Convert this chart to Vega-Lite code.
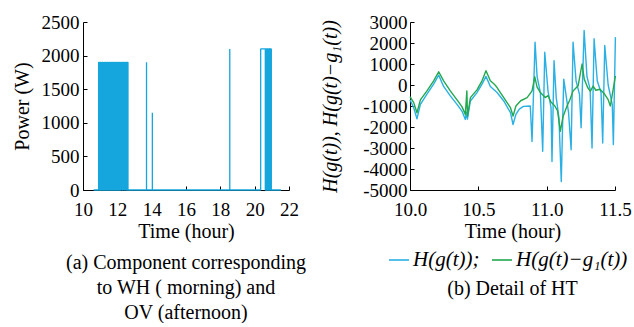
{
  "$schema": "https://vega.github.io/schema/vega-lite/v6.json",
  "background": "white",
  "padding": {"left": 12, "top": 13, "right": 0, "bottom": 0},
  "bounds": "flush",
  "spacing": 121,
  "config": {
    "font": "Liberation Serif",
    "view": {"stroke": null},
    "title": {"font": "Liberation Serif", "fontSize": 20, "fontWeight": "normal", "color": "black", "lineHeight": 25}
  },
  "hconcat": [
    {
      "width": 206,
      "height": 168,
      "title": {"text": ["(a) Component  corresponding", "to WH ( morning) and", "OV (afternoon)"], "orient": "bottom", "anchor": "middle", "offset": 12, "font": "Liberation Serif", "fontSize": 20, "fontWeight": 400, "color": "black", "lineHeight": 25},
      "data": {"values": [
        {"t": 10.62, "p": 0},
        {"t": 10.91, "p": 0}, {"t": 10.91, "p": 1900},
        {"t": 10.96, "p": 1900}, {"t": 10.96, "p": 0},
        {"t": 11.01, "p": 0}, {"t": 11.01, "p": 1900},
        {"t": 11.06, "p": 1900}, {"t": 11.06, "p": 0},
        {"t": 11.11, "p": 0}, {"t": 11.11, "p": 1900},
        {"t": 11.16, "p": 1900}, {"t": 11.16, "p": 0},
        {"t": 11.21, "p": 0}, {"t": 11.21, "p": 1900},
        {"t": 11.26, "p": 1900}, {"t": 11.26, "p": 0},
        {"t": 11.31, "p": 0}, {"t": 11.31, "p": 1900},
        {"t": 11.36, "p": 1900}, {"t": 11.36, "p": 0},
        {"t": 11.41, "p": 0}, {"t": 11.41, "p": 1900},
        {"t": 11.46, "p": 1900}, {"t": 11.46, "p": 0},
        {"t": 11.51, "p": 0}, {"t": 11.51, "p": 1900},
        {"t": 11.56, "p": 1900}, {"t": 11.56, "p": 0},
        {"t": 11.61, "p": 0}, {"t": 11.61, "p": 1900},
        {"t": 11.66, "p": 1900}, {"t": 11.66, "p": 0},
        {"t": 11.71, "p": 0}, {"t": 11.71, "p": 1900},
        {"t": 11.76, "p": 1900}, {"t": 11.76, "p": 0},
        {"t": 11.81, "p": 0}, {"t": 11.81, "p": 1900},
        {"t": 11.86, "p": 1900}, {"t": 11.86, "p": 0},
        {"t": 11.91, "p": 0}, {"t": 11.91, "p": 1900},
        {"t": 11.96, "p": 1900}, {"t": 11.96, "p": 0},
        {"t": 12.01, "p": 0}, {"t": 12.01, "p": 1900},
        {"t": 12.06, "p": 1900}, {"t": 12.06, "p": 0},
        {"t": 12.11, "p": 0}, {"t": 12.11, "p": 1900},
        {"t": 12.16, "p": 1900}, {"t": 12.16, "p": 0},
        {"t": 12.22, "p": 0}, {"t": 12.22, "p": 1900},
        {"t": 12.29, "p": 1900}, {"t": 12.29, "p": 0},
        {"t": 12.35, "p": 0}, {"t": 12.35, "p": 1900},
        {"t": 12.42, "p": 1900}, {"t": 12.42, "p": 0},
        {"t": 12.47, "p": 0}, {"t": 12.47, "p": 1900},
        {"t": 12.53, "p": 1900}, {"t": 12.53, "p": 0},
        {"t": 12.57, "p": 0}, {"t": 12.57, "p": 1900},
        {"t": 12.62, "p": 1900}, {"t": 12.62, "p": 0},
        {"t": 13.70, "p": 0}, {"t": 13.70, "p": 1900}, {"t": 13.70, "p": 0},
        {"t": 14.04, "p": 0}, {"t": 14.04, "p": 1150}, {"t": 14.04, "p": 0},
        {"t": 18.55, "p": 0}, {"t": 18.55, "p": 2100}, {"t": 18.55, "p": 0},
        {"t": 20.35, "p": 0}, {"t": 20.35, "p": 2100},
        {"t": 20.62, "p": 2100}, {"t": 20.62, "p": 0},
        {"t": 20.66, "p": 0}, {"t": 20.66, "p": 2100},
        {"t": 20.70, "p": 2100}, {"t": 20.70, "p": 0},
        {"t": 20.74, "p": 0}, {"t": 20.74, "p": 2100},
        {"t": 20.78, "p": 2100}, {"t": 20.78, "p": 0},
        {"t": 20.82, "p": 0}, {"t": 20.82, "p": 2100},
        {"t": 20.86, "p": 2100}, {"t": 20.86, "p": 0},
        {"t": 20.89, "p": 0}, {"t": 20.89, "p": 2100},
        {"t": 20.93, "p": 2100}, {"t": 20.93, "p": 0},
        {"t": 20.95, "p": 0}, {"t": 20.95, "p": 2100},
        {"t": 20.97, "p": 2100}, {"t": 20.97, "p": 0},
        {"t": 21.53, "p": 0}
      ]},
      "mark": {"type": "line", "color": "#14a6dd", "strokeWidth": 1.3, "strokeJoin": "bevel"},
      "encoding": {
        "x": {"field": "t", "type": "quantitative", "scale": {"domain": [10, 22], "nice": false, "zero": false},
              "axis": {"values": [10, 12, 14, 16, 18, 20, 22], "format": "d", "title": "Time (hour)",
                       "grid": false, "domainColor": "black", "tickColor": "black", "tickSize": -4,
                       "labelFont": "Liberation Serif", "labelFontSize": 19, "labelColor": "black", "labelPadding": 14,
                       "labelFlush": false, "labelOverlap": false,
                       "titleFont": "Liberation Serif", "titleFontSize": 20, "titleFontWeight": 400, "titleColor": "black", "titlePadding": 2}},
        "y": {"field": "p", "type": "quantitative", "scale": {"domain": [0, 2500], "nice": false},
              "axis": {"values": [0, 500, 1000, 1500, 2000, 2500], "format": "d", "title": "Power (W)",
                       "grid": false, "domainColor": "black", "tickColor": "black", "tickSize": -4,
                       "labelFont": "Liberation Serif", "labelFontSize": 19, "labelColor": "black", "labelPadding": 8,
                       "labelFlush": false, "labelOverlap": false,
                       "titleFont": "Liberation Serif", "titleFontSize": 20, "titleFontWeight": 400, "titleColor": "black", "titlePadding": 9}},
        "order": {"value": null}
      }
    },
    {
      "width": 205,
      "height": 168,
      "title": {"text": "(b) Detail of HT", "orient": "bottom", "anchor": "middle", "offset": 38, "font": "Liberation Serif", "fontSize": 20, "fontWeight": 400, "color": "black"},
      "data": {"values": [
        {"t": 10.000, "v": -700, "s": "a"},
        {"t": 10.027, "v": -1080, "s": "a"},
        {"t": 10.051, "v": -1610, "s": "a"},
        {"t": 10.076, "v": -920, "s": "a"},
        {"t": 10.124, "v": -440, "s": "a"},
        {"t": 10.173, "v": 40, "s": "a"},
        {"t": 10.210, "v": 470, "s": "a"},
        {"t": 10.246, "v": -70, "s": "a"},
        {"t": 10.295, "v": -520, "s": "a"},
        {"t": 10.344, "v": -920, "s": "a"},
        {"t": 10.380, "v": -1240, "s": "a"},
        {"t": 10.405, "v": -1640, "s": "a"},
        {"t": 10.412, "v": -1300, "s": "a"},
        {"t": 10.420, "v": -1620, "s": "a"},
        {"t": 10.442, "v": -760, "s": "a"},
        {"t": 10.490, "v": -360, "s": "a"},
        {"t": 10.527, "v": 40, "s": "a"},
        {"t": 10.556, "v": 410, "s": "a"},
        {"t": 10.588, "v": -70, "s": "a"},
        {"t": 10.637, "v": -360, "s": "a"},
        {"t": 10.686, "v": -760, "s": "a"},
        {"t": 10.735, "v": -1320, "s": "a"},
        {"t": 10.754, "v": -1880, "s": "a"},
        {"t": 10.775, "v": -1400, "s": "a"},
        {"t": 10.800, "v": -1150, "s": "a"},
        {"t": 10.830, "v": -1020, "s": "a"},
        {"t": 10.880, "v": -1000, "s": "a"},
        {"t": 10.893, "v": -2690, "s": "a"},
        {"t": 10.915, "v": 2040, "s": "a"},
        {"t": 10.930, "v": 400, "s": "a"},
        {"t": 10.954, "v": -360, "s": "a"},
        {"t": 10.971, "v": -3160, "s": "a"},
        {"t": 10.986, "v": 1560, "s": "a"},
        {"t": 11.010, "v": -300, "s": "a"},
        {"t": 11.032, "v": -1080, "s": "a"},
        {"t": 11.039, "v": -3640, "s": "a"},
        {"t": 11.054, "v": 1160, "s": "a"},
        {"t": 11.070, "v": -600, "s": "a"},
        {"t": 11.090, "v": -1570, "s": "a"},
        {"t": 11.107, "v": -4600, "s": "a"},
        {"t": 11.118, "v": -1500, "s": "a"},
        {"t": 11.125, "v": 280, "s": "a"},
        {"t": 11.140, "v": -400, "s": "a"},
        {"t": 11.160, "v": -1300, "s": "a"},
        {"t": 11.179, "v": -3080, "s": "a"},
        {"t": 11.193, "v": 2040, "s": "a"},
        {"t": 11.215, "v": 200, "s": "a"},
        {"t": 11.240, "v": -440, "s": "a"},
        {"t": 11.252, "v": -2040, "s": "a"},
        {"t": 11.274, "v": 2600, "s": "a"},
        {"t": 11.295, "v": 400, "s": "a"},
        {"t": 11.318, "v": -200, "s": "a"},
        {"t": 11.332, "v": -3000, "s": "a"},
        {"t": 11.347, "v": 2200, "s": "a"},
        {"t": 11.370, "v": 200, "s": "a"},
        {"t": 11.398, "v": -360, "s": "a"},
        {"t": 11.410, "v": -2760, "s": "a"},
        {"t": 11.425, "v": 1880, "s": "a"},
        {"t": 11.450, "v": 0, "s": "a"},
        {"t": 11.480, "v": -920, "s": "a"},
        {"t": 11.488, "v": -2840, "s": "a"},
        {"t": 11.503, "v": 2280, "s": "a"},
        {"t": 10.000, "v": -550, "s": "b"},
        {"t": 10.027, "v": -840, "s": "b"},
        {"t": 10.051, "v": -1320, "s": "b"},
        {"t": 10.076, "v": -710, "s": "b"},
        {"t": 10.124, "v": -280, "s": "b"},
        {"t": 10.173, "v": 200, "s": "b"},
        {"t": 10.210, "v": 630, "s": "b"},
        {"t": 10.246, "v": 200, "s": "b"},
        {"t": 10.295, "v": -280, "s": "b"},
        {"t": 10.344, "v": -710, "s": "b"},
        {"t": 10.380, "v": -1030, "s": "b"},
        {"t": 10.405, "v": -1400, "s": "b"},
        {"t": 10.416, "v": -280, "s": "b"},
        {"t": 10.421, "v": -1480, "s": "b"},
        {"t": 10.442, "v": -600, "s": "b"},
        {"t": 10.490, "v": -230, "s": "b"},
        {"t": 10.527, "v": 200, "s": "b"},
        {"t": 10.556, "v": 680, "s": "b"},
        {"t": 10.588, "v": 200, "s": "b"},
        {"t": 10.617, "v": 40, "s": "b"},
        {"t": 10.637, "v": -120, "s": "b"},
        {"t": 10.686, "v": -600, "s": "b"},
        {"t": 10.735, "v": -1080, "s": "b"},
        {"t": 10.754, "v": -1480, "s": "b"},
        {"t": 10.775, "v": -1000, "s": "b"},
        {"t": 10.810, "v": -750, "s": "b"},
        {"t": 10.857, "v": -600, "s": "b"},
        {"t": 10.893, "v": -280, "s": "b"},
        {"t": 10.913, "v": 390, "s": "b"},
        {"t": 10.930, "v": -100, "s": "b"},
        {"t": 10.954, "v": -360, "s": "b"},
        {"t": 10.990, "v": -600, "s": "b"},
        {"t": 11.010, "v": -500, "s": "b"},
        {"t": 11.030, "v": -800, "s": "b"},
        {"t": 11.060, "v": -1000, "s": "b"},
        {"t": 11.080, "v": -1240, "s": "b"},
        {"t": 11.100, "v": -2200, "s": "b"},
        {"t": 11.120, "v": -1500, "s": "b"},
        {"t": 11.149, "v": -1000, "s": "b"},
        {"t": 11.170, "v": -700, "s": "b"},
        {"t": 11.193, "v": -280, "s": "b"},
        {"t": 11.230, "v": -40, "s": "b"},
        {"t": 11.259, "v": 1000, "s": "b"},
        {"t": 11.275, "v": 280, "s": "b"},
        {"t": 11.300, "v": -120, "s": "b"},
        {"t": 11.320, "v": -300, "s": "b"},
        {"t": 11.340, "v": -50, "s": "b"},
        {"t": 11.360, "v": -250, "s": "b"},
        {"t": 11.390, "v": -200, "s": "b"},
        {"t": 11.420, "v": -400, "s": "b"},
        {"t": 11.450, "v": -700, "s": "b"},
        {"t": 11.466, "v": -1000, "s": "b"},
        {"t": 11.503, "v": 430, "s": "b"}
      ]},
      "mark": {"type": "line", "strokeWidth": 1.4, "strokeJoin": "round"},
      "encoding": {
        "x": {"field": "t", "type": "quantitative", "scale": {"domain": [10, 11.5], "nice": false, "zero": false},
              "axis": {"values": [10, 10.5, 11, 11.5], "format": ".1f", "title": "Time (hour)",
                       "grid": false, "domainColor": "black", "tickColor": "black", "tickSize": -4,
                       "labelFont": "Liberation Serif", "labelFontSize": 19, "labelColor": "black", "labelPadding": 14,
                       "labelFlush": false, "labelOverlap": false,
                       "titleFont": "Liberation Serif", "titleFontSize": 20, "titleFontWeight": 400, "titleColor": "black", "titlePadding": 2}},
        "y": {"field": "v", "type": "quantitative", "scale": {"domain": [-5000, 3000], "nice": false},
              "axis": {"values": [-5000, -4000, -3000, -2000, -1000, 0, 1000, 2000, 3000],
                       "labelExpr": "(datum.value < 0 ? '-' : '') + abs(datum.value)",
                       "title": "H(g(t)), H(g(t)−g₁(t))", "titleFontStyle": "italic",
                       "grid": false, "domainColor": "black", "tickColor": "black", "tickSize": -4,
                       "labelFont": "Liberation Serif", "labelFontSize": 19, "labelColor": "black", "labelPadding": 7,
                       "labelFlush": false, "labelOverlap": false,
                       "titleFont": "Liberation Serif", "titleFontSize": 20, "titleFontWeight": 400, "titleColor": "black", "titlePadding": 22}},
        "color": {"field": "s", "type": "nominal",
                  "scale": {"domain": ["a", "b"], "range": ["#2ab0e4", "#22a84e"]},
                  "legend": {"orient": "none", "legendX": 305, "legendY": 227, "direction": "horizontal", "title": null,
                             "symbolType": "stroke", "symbolSize": 400, "symbolStrokeWidth": 1.6, "labelOffset": 3,
                             "columnPadding": 8, "labelFontStyle": "italic",
                             "labelFont": "Liberation Serif", "labelFontSize": 21, "labelColor": "black", "labelLimit": 300,
                             "labelExpr": "datum.value == 'a' ? 'H(g(t));' : 'H(g(t)−g₁(t))'"}},
        "order": {"value": null}
      }
    }
  ]
}
